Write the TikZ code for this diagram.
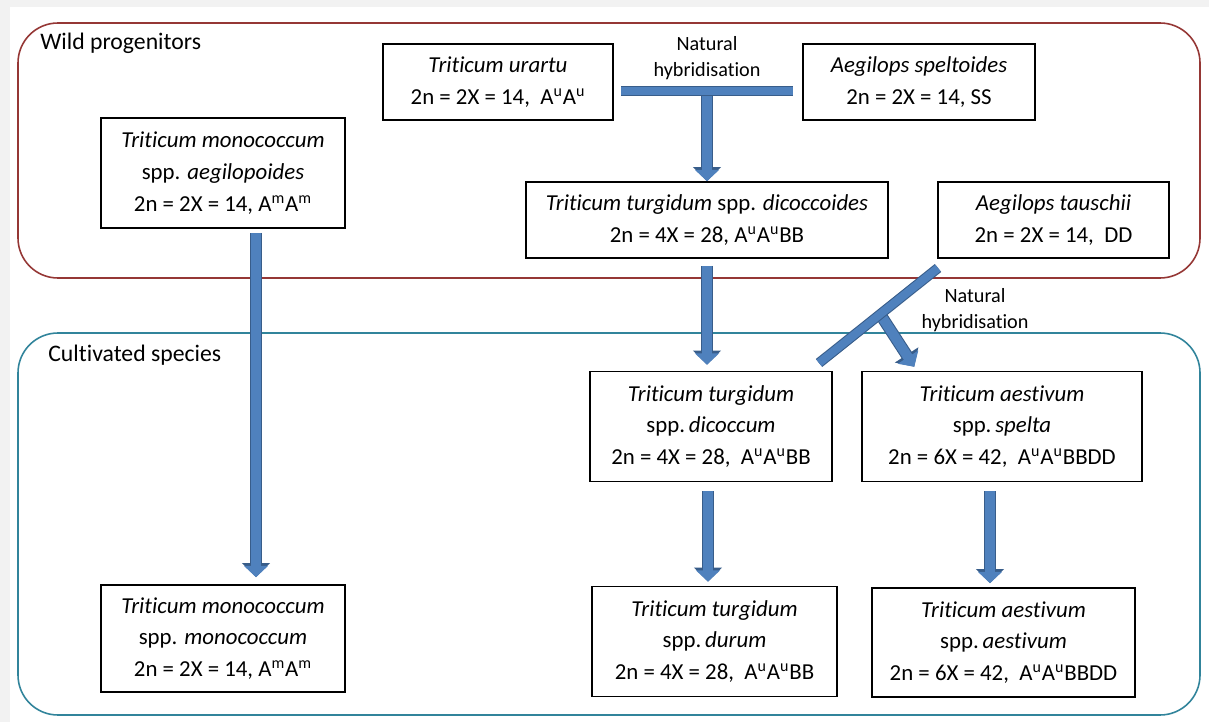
\documentclass[tikz,border=0pt]{standalone}
\usepackage{fontspec}
\setmainfont{Carlito}[Ligatures={TeX,NoCommon}]
\usetikzlibrary{arrows.meta}
\definecolor{arrowfill}{HTML}{4F81BD}
\definecolor{arrowedge}{HTML}{385D8A}
\definecolor{wildred}{HTML}{953735}
\definecolor{cultteal}{HTML}{31849B}
\definecolor{pagegray}{HTML}{F2F2F2}
\newcommand{\Au}{A\textsuperscript{u}}
\newcommand{\Am}{A\textsuperscript{m}}
\tikzset{
  every picture/.style={
    line join=miter,
    x=0.02cm, y=-0.02cm,            % one unit = one pixel of the layout
  },
  species/.style={draw=black, line width=0.9pt, fill=white, align=center,
    inner sep=0pt, font=\fontsize{13}{18}\selectfont},
  twoline/.style={species, minimum height=1.52cm},
  threeline/.style={species, minimum height=2.2cm},
  group/.style={line width=0.9pt, rounded corners=0.8cm},
  grouplabel/.style={anchor=base west, inner sep=0pt,
    font=\fontsize{13.5}{16}\selectfont},
  hyblabel/.style={align=center, inner sep=0pt,
    font=\fontsize{11.5}{14.8}\selectfont},
  hybbar/.style={draw=arrowfill, line width=4.6pt, line cap=butt,
    preaction={draw=arrowedge, line width=5.8pt}},
  bigarrow/.style={draw=arrowfill, line width=5.6pt, line cap=butt,
    -{Triangle[width=13.5pt,length=6.5pt]},
    preaction={draw=arrowedge, line width=6.8pt,
      -{Triangle[width=15.5pt,length=8pt]}}},
}
\begin{document}
\begin{tikzpicture}
    \useasboundingbox (0,0) rectangle (1209,722);
    \fill[pagegray] (0,0) rectangle (1209,722);
    \fill[white] (10,7) rectangle (1209,722);

    % Groups
    \draw[group, draw=wildred] (18,23) rectangle (1200,278);
    \draw[group, draw=cultteal] (18,333) rectangle (1200,715);
    \node[grouplabel] (wildlbl) at (40,50) {Wild progenitors};
    \node[grouplabel] (cultlbl) at (48,362) {Cultivated species};

    % Wild species
    \node[twoline, minimum width=4.6cm] (urartu) at (498,82)
      {\textit{Triticum urartu}\\2n = 2X = 14,\ \ \Au\Au};
    \node[twoline, minimum width=4.64cm] (speltoides) at (919,82)
      {\textit{Aegilops speltoides}\\2n = 2X = 14, SS};
    \node[threeline, minimum width=4.88cm] (aegilopoides) at (223,173)
      {\textit{Triticum monococcum}\\spp. \textit{aegilopoides}\\2n = 2X = 14, \Am\Am};
    \node[twoline, minimum width=7.24cm] (dicoccoides) at (707,220)
      {\textit{Triticum turgidum} spp. \textit{dicoccoides}\\2n = 4X = 28, \Au\Au BB};
    \node[twoline, minimum width=4.62cm] (tauschii) at (1053.5,220)
      {\textit{Aegilops tauschii}\\2n = 2X = 14,\ \ DD};

    % Cultivated species
    \node[threeline, minimum width=4.84cm] (dicoccum) at (711,426.5)
      {\textit{Triticum turgidum}\\spp.\,\textit{dicoccum}\\2n = 4X = 28,\ \ \Au\Au BB};
    \node[threeline, minimum width=5.6cm] (spelta) at (1002,426.5)
      {\textit{Triticum aestivum}\\spp.\,\textit{spelta}\\2n = 6X = 42,\ \ \Au\Au BBDD};
    \node[threeline, minimum width=4.88cm, minimum height=2.14cm] (monococcum) at (223,638.5)
      {\textit{Triticum monococcum}\\spp. \textit{monococcum}\\2n = 2X = 14, \Am\Am};
    \node[threeline, minimum width=4.9cm] (durum) at (714.5,641.5)
      {\textit{Triticum turgidum}\\spp.\,\textit{durum}\\2n = 4X = 28,\ \ \Au\Au BB};
    \node[threeline, minimum width=5.26cm, minimum height=2.18cm] (aestivum) at (1003.5,642.5)
      {\textit{Triticum aestivum}\\spp.\,\textit{aestivum}\\2n = 6X = 42,\ \ \Au\Au BBDD};

    % Hybridisation labels
    \node[hyblabel] (hyblblA) at (707,58) {Natural\\hybridisation};
    \node[hyblabel] (hyblblB) at (975,310) {Natural\\hybridisation};

    % Columns of the arrows
    \coordinate (colM) at (256,0);
    \coordinate (colA) at (708,0);
    \coordinate (colB) at (990,0);

    % First hybridisation: urartu x speltoides
    \coordinate (hybA) at (621,91);
    \coordinate (hybB) at (793,91);
    \coordinate (hybC) at (707,91);
    \draw[bigarrow] (hybC) -- (dicoccoides.north -| hybC);
    \draw[hybbar] (hybA) -- (hybB);

    % Second hybridisation: dicoccum x tauschii
    \coordinate (hybD) at (938,268);
    \coordinate (hybE) at (819,363);
    \coordinate (hybF) at (880,314);
    \draw[bigarrow] (hybF) -- ([shift={(53,-4)}]spelta.north west);
    \draw[hybbar] (hybD) -- (hybE);

    % Domestication
    \draw[bigarrow, shorten <=2.3pt, shorten >=4pt]
      (aegilopoides.south -| colM) -- (monococcum.north -| colM);
    \draw[bigarrow, shorten <=4pt, shorten >=3.4pt]
      (dicoccoides.south) -- (dicoccoides.south |- dicoccum.north);
    \draw[bigarrow, shorten <=5pt, shorten >=2.3pt]
      (dicoccum.south -| colA) -- (durum.north -| colA);
    \draw[bigarrow, shorten <=5pt, shorten >=2.3pt]
      (spelta.south -| colB) -- (aestivum.north -| colB);
\end{tikzpicture}
\end{document}
